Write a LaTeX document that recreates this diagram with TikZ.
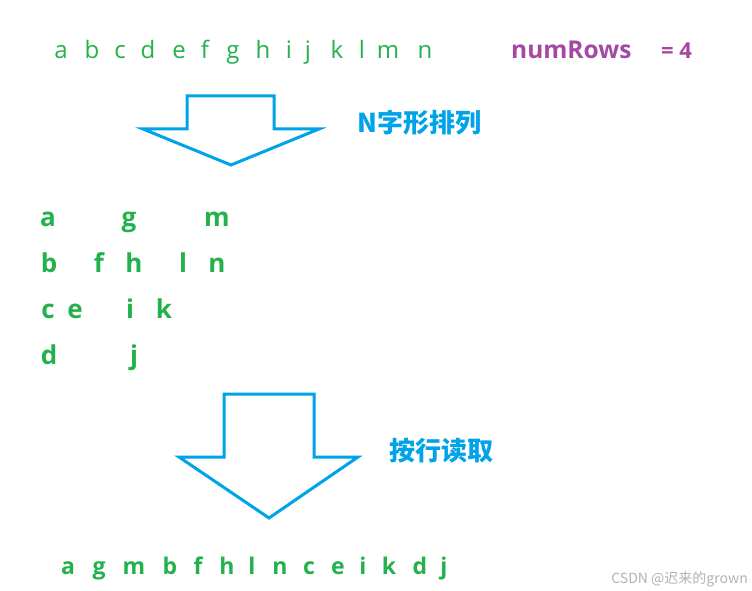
\documentclass[tikz,border=0pt]{standalone}
\usepackage{fontspec}
\setmainfont{Open Sans}
\newfontfamily\cjk{Noto Sans CJK SC}
\definecolor{lettergreen}{RGB}{34,177,76}
\definecolor{arrowblue}{RGB}{0,162,232}
\definecolor{rowpurple}{RGB}{163,73,164}

\begin{document}
\begin{tikzpicture}[x=1pt, y=-1pt,
		toprow/.style={text=lettergreen, anchor=base, inner sep=0pt, font=\fontsize{24}{28}\selectfont},
		zigzag/.style={text=lettergreen, anchor=base, inner sep=0pt, font=\fontsize{26}{30}\selectfont\bfseries},
		result/.style={text=lettergreen, anchor=base, inner sep=0pt, font=\fontsize{23}{27}\selectfont\bfseries},
		rowcount/.style={text=rowpurple, anchor=base west, inner sep=0pt, font=\fontsize{24.5}{28}\selectfont\bfseries},
		steplabel/.style={text=arrowblue, anchor=west, inner sep=0pt, font=\cjk\fontsize{26}{30}\selectfont\bfseries},
		blockarrow/.style={draw=arrowblue, line width=3pt, line join=miter}]
				\useasboundingbox (0,0) rectangle (752,591);

				% Input string
				\foreach \ch/\x in {a/61,b/92,c/120,d/148,e/179,f/205,g/233,h/263,i/289,j/308,k/337,l/362,m/388,n/425}
					\node[toprow] (in\ch) at (\x,59) {\ch};
				\node[rowcount] (rows) at (511,59) {numRows};
				\node[rowcount, font=\fontsize{22}{26}\selectfont\bfseries] (rowsval) at (661,59) {= 4};

				% First step: write in N shape
				\draw[blockarrow] (187,96) -- (274,96) -- (274,129) -- (319,129) -- (231,165) -- (143,129) -- (187,129) -- cycle;
				\node[steplabel] (zlabel) at (357,123) {N字形排列};

				% Rows of the N shape
				\foreach \ch/\x in {a/48,g/129,m/217}
					\node[zigzag] (r1\ch) at (\x,226) {\ch};
				\foreach \ch/\x in {b/49,f/99,h/134,l/183,n/217}
					\node[zigzag] (r2\ch) at (\x,272) {\ch};
				\foreach \ch/\x in {c/48,e/75,i/130,k/164}
					\node[zigzag] (r3\ch) at (\x,318) {\ch};
				\foreach \ch/\x in {d/49,j/134}
					\node[zigzag] (r4\ch) at (\x,364) {\ch};

				% Second step: read row by row
				\draw[blockarrow] (224,394) -- (314,394) -- (314,457) -- (358,457) -- (269,518) -- (179,457) -- (224,457) -- cycle;
				\node[steplabel] (rlabel) at (389,451) {按行读取};

				% Output string
				\foreach \ch/\x in {a/68,g/99,m/134,b/170,f/198,h/227,l/252,n/280,c/309,e/338,i/363,k/389,d/420,j/444}
					\node[result] (out\ch) at (\x,574) {\ch};

				% Watermark
				\node[text=black!30, anchor=base east, inner sep=0pt, font=\cjk\fontsize{14}{16}\selectfont] (mark) at (748,583) {CSDN @迟来的grown};
			\end{tikzpicture}
\end{document}
